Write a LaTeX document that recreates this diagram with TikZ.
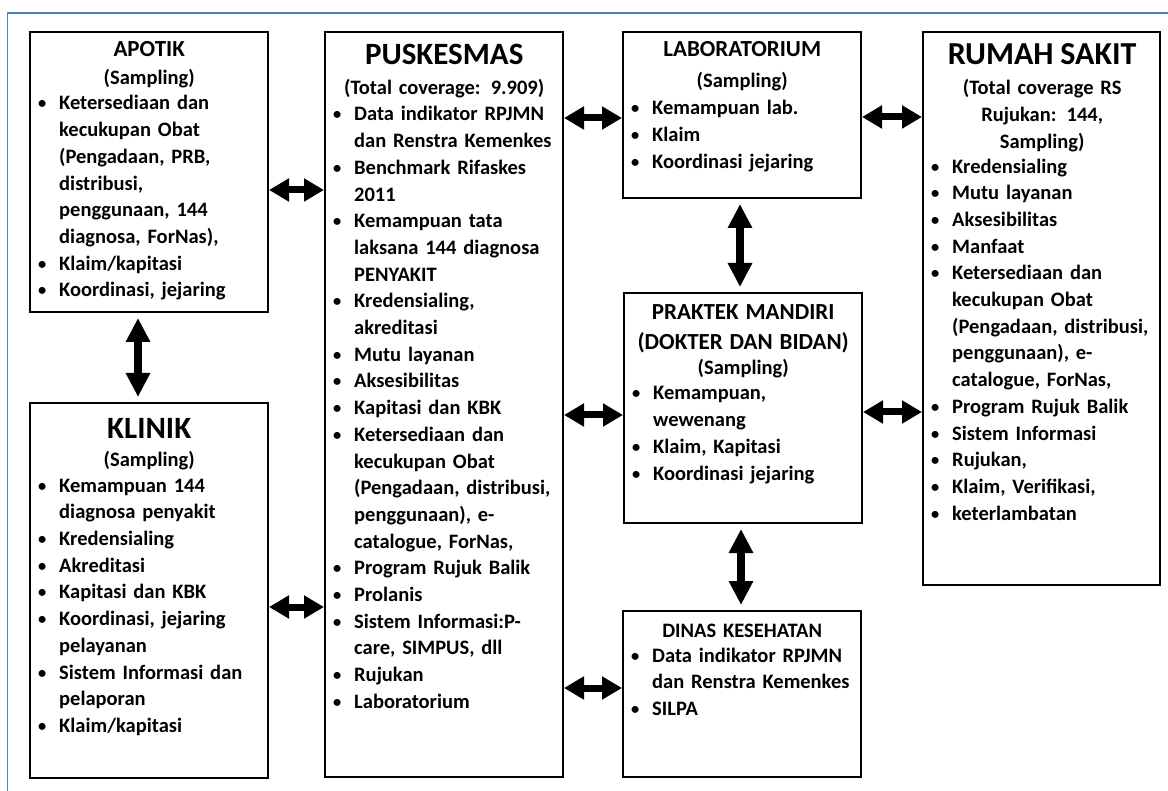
\documentclass[tikz,border=0pt]{standalone}
\usepackage{fontspec}
\setmainfont{Carlito}
\usetikzlibrary{positioning, arrows.meta}
\definecolor{framecolor}{HTML}{4F81BD}
\definecolor{boxcolor}{HTML}{000000}
\newcommand{\btitle}[2][20.5]{%
  \makebox[222pt][c]{\fontsize{#1}{#1}\selectfont #2}\par%
}
\newcommand{\bitem}{%
  \par\hangindent=21pt\hangafter=1\noindent
  \makebox[21pt][l]{\raisebox{1pt}{\scalebox{0.8}{\textbullet}}}%
}
\begin{document}
\begin{tikzpicture}[x=1pt, y=-1pt,
    % Box styles
    unitbox/.style={
        rectangle, draw=boxcolor, line width=2pt, fill=white,
        anchor=north west, minimum width=238pt, inner sep=0pt
    },
    unittext/.style={
        anchor=base west, inner sep=0pt, text width=240pt, align=left,
        font=\fontsize{20.5}{26.7}\selectfont\bfseries
    },
    % Edge styles
    hlink/.style={
        <->, >={Triangle[length=20pt, width=22pt]}, line width=7pt, boxcolor
    },
    vlink/.style={
        <->, >={Triangle[length=24pt, width=23pt]}, line width=8pt, boxcolor,
        shorten <=5pt, shorten >=5pt
    }
]
\useasboundingbox (0,0) rectangle (1168,791);

% ============ FRAME ============
\draw[framecolor, line width=1.5pt] (7.5,800) |- (1180,13);

% ============ BOXES ============
\node[unitbox, minimum height=280pt] (apotik) at (29,31) {};
\node[unitbox, minimum height=375pt] (klinik) at (29,402) {};
\node[unitbox, minimum height=745pt] (pusk) at (324,31) {};
\node[unitbox, minimum height=166pt] (lab) at (622,31) {};
\node[unitbox, minimum height=230pt] (prak) at (623,292) {};
\node[unitbox, minimum height=166pt] (dinas) at (622,610) {};
\node[unitbox, minimum height=553pt, minimum width=237pt] (rs) at (922,31) {};

% ============ APOTIK ============
\node[unittext] (apotiktxt) at (38,57) {
    \btitle[23]{APOTIK}\vspace{1.3pt}
    \btitle{(Sampling)}\vspace{-1.7pt}
    \bitem Ketersediaan dan\newline kecukupan Obat\newline (Pengadaan, PRB,\newline
        distribusi,\newline penggunaan, 144\newline diagnosa, ForNas),
    \bitem Klaim/kapitasi
    \bitem Koordinasi, jejaring
};

% ============ KLINIK ============
\node[unittext] (kliniktxt) at (38,439) {
    \btitle[31]{KLINIK}\vspace{1.3pt}
    \btitle{(Sampling)}\vspace{-1.5pt}
    \bitem Kemampuan 144\newline diagnosa penyakit
    \bitem Kredensialing
    \bitem Akreditasi
    \bitem Kapitasi dan KBK
    \bitem Koordinasi, jejaring\newline pelayanan
    \bitem Sistem Informasi dan\newline pelaporan
    \bitem Klaim/kapitasi
};

% ============ PUSKESMAS ============
\node[unittext] (pusktxt) at (333,65) {
    \btitle[31]{PUSKESMAS}\vspace{3.3pt}
    \btitle{(Total coverage: 9.909)}\vspace{-0.7pt}
    \bitem Data indikator RPJMN\newline dan Renstra Kemenkes
    \bitem Benchmark Rifaskes\newline 2011
    \bitem Kemampuan tata\newline laksana 144 diagnosa\newline PENYAKIT
    \bitem Kredensialing,\newline akreditasi
    \bitem Mutu layanan
    \bitem Aksesibilitas
    \bitem Kapitasi dan KBK
    \bitem Ketersediaan dan\newline kecukupan Obat\newline (Pengadaan, distribusi,\newline
        penggunaan), e-\newline catalogue, ForNas,
    \bitem Program Rujuk Balik
    \bitem Prolanis
    \bitem Sistem Informasi:P-\newline care, SIMPUS, dll
    \bitem Rujukan
    \bitem Laboratorium
};

% ============ LABORATORIUM ============
\node[unittext] (labtxt) at (631,57) {
    \btitle[23]{LABORATORIUM}\vspace{4.3pt}
    \btitle{(Sampling)}\vspace{0.3pt}
    \bitem Kemampuan lab.
    \bitem Klaim
    \bitem Koordinasi jejaring
};

% ============ PRAKTEK MANDIRI ============
\node[unittext] (praktxt) at (632,320) {
    \btitle[23]{PRAKTEK MANDIRI}\vspace{3.3pt}
    \btitle[23]{(DOKTER DAN BIDAN)}\vspace{-1.7pt}
    \btitle{(Sampling)}\vspace{-1.7pt}
    \bitem Kemampuan,\newline wewenang
    \bitem Klaim, Kapitasi
    \bitem Koordinasi jejaring
};

% ============ DINAS KESEHATAN ============
\node[unittext] (dinastxt) at (631,637) {
    \btitle{DINAS KESEHATAN}\vspace{-1.7pt}
    \bitem Data indikator RPJMN\newline dan Renstra Kemenkes
    \bitem SILPA
};

% ============ RUMAH SAKIT ============
\node[unittext] (rstxt) at (931,65) {
    \btitle[32]{RUMAH SAKIT}\vspace{3.3pt}
    \btitle{(Total coverage RS}
    \btitle{Rujukan: 144,}
    \btitle{Sampling)}\vspace{-2pt}
    \bitem Kredensialing
    \bitem Mutu layanan
    \bitem Aksesibilitas
    \bitem Manfaat
    \bitem Ketersediaan dan\newline kecukupan Obat\newline (Pengadaan, distribusi,\newline
        penggunaan), e-\newline catalogue, ForNas,
    \bitem Program Rujuk Balik
    \bitem Sistem Informasi
    \bitem Rujukan,
    \bitem Klaim, Verifikasi,
    \bitem keterlambatan
};

% ============ EDGES ============
% Horizontal links
\draw[hlink] (apotik.east |- 0,190) -- (pusk.west |- 0,190);
\draw[hlink] (klinik.east |- 0,607) -- (pusk.west |- 0,607);
\draw[hlink] (pusk.east |- 0,118) -- (lab.west |- 0,118);
\draw[hlink] (pusk.east |- 0,415) -- (prak.west |- 0,415);
\draw[hlink] (pusk.east |- 0,688) -- (dinas.west |- 0,688);
\draw[hlink] (lab.east |- 0,117) -- (rs.west |- 0,117);
\draw[hlink] (prak.east |- 0,412) -- (rs.west |- 0,412);

% Vertical links
\draw[vlink] (apotik.south -| 138,0) -- (klinik.north -| 138,0);
\draw[vlink] (lab.south -| 740,0) -- (prak.north -| 740,0);
\draw[vlink] (prak.south -| 741,0) -- (dinas.north -| 741,0);

\end{tikzpicture}
\end{document}
